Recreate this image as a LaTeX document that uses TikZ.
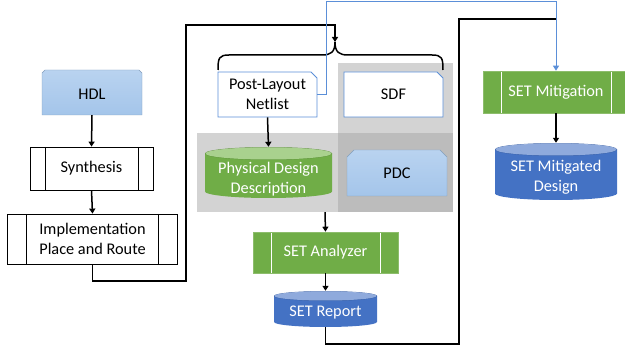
\documentclass[tikz,border=0pt]{standalone}
\usepackage{fontspec}
\setmainfont{Carlito}
\usetikzlibrary{shapes.misc,arrows.meta,calc}
\definecolor{lgreen}{HTML}{70AD47}
\definecolor{lgreentop}{HTML}{A9D18E}
\definecolor{dblue}{HTML}{4472C4}
\definecolor{dbluetop}{HTML}{8FAADC}
\definecolor{sky}{HTML}{A4C5EA}
\definecolor{skytop}{HTML}{B9D3F0}
\definecolor{docblue}{HTML}{5B8FD8}
\definecolor{lgray}{HTML}{D3D3D3}
\definecolor{dgray}{HTML}{BCBCBC}
\newcommand{\shiftdown}[2]{\raisebox{-#1}[\height][\depth]{#2}}
\tikzset{
  every node/.style={font=\fontsize{16.3}{19.6}\selectfont, align=center, inner sep=0pt},
  flow/.style={line width=1.5pt, -{Triangle[width=6pt,length=5pt]}},
  wire/.style={line width=1.5pt},
  bflow/.style={line width=1pt, draw=docblue, -{Triangle[width=6pt,length=5pt]}},
  proc/.style={draw=black, line width=0.8pt, fill=white,
    path picture={\draw[line width=0.8pt]
      ([xshift=#1]path picture bounding box.north west) -- ([xshift=#1]path picture bounding box.south west)
      ([xshift=-#1]path picture bounding box.north east) -- ([xshift=-#1]path picture bounding box.south east);}},
  gproc/.style={draw=lgreen!80!white, line width=0.6pt, fill=lgreen, text=white,
    path picture={\draw[white, line width=1pt]
      ([xshift=#1]path picture bounding box.north west) -- ([xshift=#1]path picture bounding box.south west)
      ([xshift=-#1]path picture bounding box.north east) -- ([xshift=-#1]path picture bounding box.south east);}},
  doc/.style={chamfered rectangle, chamfered rectangle corners=north east,
    chamfered rectangle xsep=3pt, chamfered rectangle ysep=3pt,
    draw=docblue, line width=0.8pt, fill=white},
  snip/.style={chamfered rectangle, chamfered rectangle corners={north east,north west},
    chamfered rectangle xsep=#1, chamfered rectangle ysep=#1,
    draw=sky!80!black, line width=0.4pt, top color=skytop, bottom color=sky},
  cyl/.style n args={3}{rectangle, text=white,
    path picture={
      \fill[#1] let \p1=(path picture bounding box.north west), \p2=(path picture bounding box.south east), \n1={(\x2-\x1)/2} in
        (\x1,\y1-#3) -- (\x1,\y2+#3) arc[start angle=180,end angle=360,x radius=\n1,y radius=#3] -- (\x2,\y1-#3) -- cycle;
      \draw[#1!85!black, line width=0.5pt] let \p1=(path picture bounding box.north west), \p2=(path picture bounding box.south east), \n1={(\x2-\x1)/2} in
        ({(\x1+\x2)/2},\y1-#3) ellipse[x radius=\n1-0.3, y radius=#3-0.3pt];
      \fill[#2] let \p1=(path picture bounding box.north west), \p2=(path picture bounding box.south east), \n1={(\x2-\x1)/2} in
        ({(\x1+\x2)/2},\y1-#3) ellipse[x radius=\n1-0.5, y radius=#3-0.5pt];
    }},
  graybox/.style={rectangle, draw=none, fill=#1}
}
\begin{document}
\begin{tikzpicture}[x=1pt,y=-1pt]
\useasboundingbox (0,0) rectangle (625,347);
% gray background regions
\node[graybox=lgray, minimum width=256pt, minimum height=79pt] (band) at (325,172.5) {};
\node[graybox=lgray, minimum width=115pt, minimum height=70pt] (sdfbg) at (395.5,98) {};
\node[graybox=dgray, minimum width=115pt, minimum height=79pt] (pdcbg) at (395.5,172.5) {};
% left column
\node[snip=1.5pt, minimum width=100pt, minimum height=45pt] (hdl) at (92,92.5) {\shiftdown{2pt}{HDL}};
\node[proc=15pt, minimum width=123pt, minimum height=43pt] (syn) at (91.5,168.5) {Synthesis};
\node[proc=19pt, minimum width=170pt, minimum height=50pt] (impl) at (92.5,239) {Implementation\\Place and Route};
\draw[flow] (hdl.south) -- (syn.north);
\draw[flow] (syn.south) -- (impl.north);
% middle
\node[doc, minimum width=99pt, minimum height=45pt] (net) at (267.5,94.5) {Post-Layout\\Netlist};
\node[doc, minimum width=99pt, minimum height=45pt] (sdf) at (393.5,94.5) {SDF};
\node[cyl={lgreen}{lgreentop}{6.5pt}, minimum width=127pt, minimum height=51pt] (pdd) at (268.5,172.5)
  {\shiftdown{7pt}{\begin{tabular}{@{}c@{}}Physical Design\\Description\end{tabular}}};
\node[snip=3.5pt, minimum width=100pt, minimum height=46pt] (pdc) at (397,173) {PDC};
\draw[flow] (net.south) -- (pdd.north);
\node[gproc=18pt, minimum width=145pt, minimum height=41pt] (ana) at (325.5,252.5) {SET Analyzer};
\node[cyl={dblue}{dbluetop}{5pt}, minimum width=103pt, minimum height=36pt] (rep) at (325.5,309)
  {\shiftdown{4pt}{SET Report}};
\draw[flow] (band.south) -- (ana.north);
\draw[flow] (ana.south) -- (rep.north);
% right
\node[gproc=18pt, minimum width=146pt, minimum height=42pt] (mit) at (556,92) {SET Mitigation};
\node[cyl={dblue}{dbluetop}{6.5pt}, minimum width=122pt, minimum height=57pt] (mdes) at (556,171.5)
  {\shiftdown{6pt}{\begin{tabular}{@{}c@{}}SET Mitigated\\Design\end{tabular}}};
\draw[flow] (mit.south) -- (mdes.north);
% brace
\coordinate (brtip) at (335,42);
\draw[wire] (218,70) .. controls (218,58) and (219,55) .. (229,55) -- (322,55)
  .. controls (331,55) and (335,52) .. (brtip)
  .. controls (335,52) and (339,55) .. (348,55) -- (432,55)
  .. controls (442,55) and (443,58) .. (443,70);
% connectors
\coordinate (j1) at (186,281);
\coordinate (j2) at (186,25);
\draw[flow] (impl.south) |- (j1) -- (j2) -| (brtip);
\coordinate (k1) at (459,344);
\coordinate (k2) at (459,19);
\coordinate (k3) at (556,19);
\draw[wire] (rep.south) |- (k1) -- (k2) -- (k3);
\coordinate (b1) at (326,1.5);
\draw[bflow] (net.east) -| (b1) -| (mit.north);
\end{tikzpicture}
\end{document}
